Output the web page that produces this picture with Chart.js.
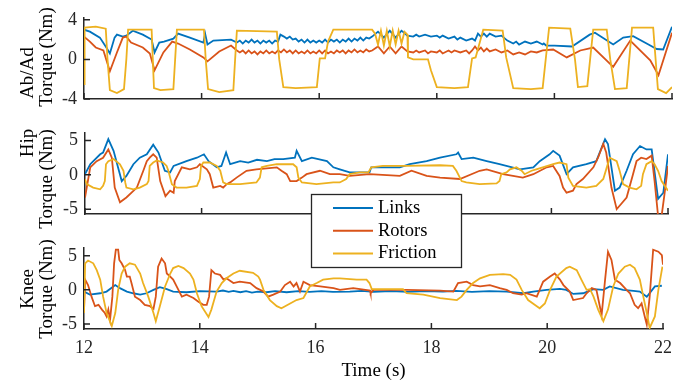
<!DOCTYPE html>
<html>
<head>
<meta charset="utf-8">
<script src="https://cdn.jsdelivr.net/npm/chart.js@4.4.1/dist/chart.umd.min.js"></script>
<style>
  body { margin: 0; background: #fff; }
  #wrap { position: relative; width: 694px; height: 383px; }
  #wrap canvas { position: absolute; left: 0; top: 0; }
</style>
</head>
<body>
<div id="wrap">
  <canvas id="abad" width="694" height="383"></canvas>
  <canvas id="hip" width="694" height="383"></canvas>
  <canvas id="knee" width="694" height="383"></canvas>
</div>
<script>
// series names / colours (MATLAB default order)
const seriesNames = ["Links", "Rotors", "Friction"];
const seriesColors = ["#0072BD", "#D95319", "#EDB120"];

const xTicks = [12, 14, 16, 18, 20, 22];
const abadTicks = [-4, 0, 4];
const hipTicks = [-5, 0, 5];
const kneeTicks = [-5, 0, 5];

// [time (s), torque (Nm)]
const abadLinks = [[12.0,3.0],[12.1,2.8],[12.27,2.2],[12.38,1.2],[12.44,0.6],[12.52,2.2],[12.56,2.5],[12.66,2.3],[12.72,2.4],[12.83,2.9],[13.0,2.5],[13.15,2.0],[13.2,0.7],[13.28,1.7],[13.36,1.8],[13.52,2.1],[13.6,2.6],[13.8,2.2],[14.03,1.7],[14.06,2.6],[14.1,1.5],[14.2,1.9],[14.5,2.0],[14.6,1.7],[14.65,1.9],[14.7,1.6],[14.75,1.9],[14.8,1.7],[14.85,2.0],[14.9,1.7],[14.95,1.9],[15.0,1.6],[15.05,1.9],[15.1,1.7],[15.15,1.9],[15.2,1.6],[15.25,1.9],[15.3,1.8],[15.34,2.5],[15.4,2.3],[15.45,2.1],[15.5,2.3],[15.55,2.0],[15.6,2.1],[15.65,1.8],[15.7,2.0],[15.75,1.7],[15.8,2.0],[15.85,1.7],[15.9,1.9],[15.95,1.7],[16.0,1.9],[16.05,1.7],[16.1,2.0],[16.15,1.7],[16.2,2.0],[16.25,1.8],[16.3,2.0],[16.35,1.7],[16.4,2.0],[16.45,1.8],[16.5,2.1],[16.55,1.8],[16.6,2.1],[16.65,1.9],[16.7,2.2],[16.75,1.9],[16.8,2.2],[16.85,2.1],[16.9,2.3],[17.0,2.8],[17.1,2.2],[17.2,2.9],[17.3,2.2],[17.4,2.9],[17.5,2.4],[17.6,2.3],[17.65,2.5],[17.7,2.3],[17.8,2.5],[17.9,2.3],[18.0,2.4],[18.05,2.2],[18.1,2.4],[18.2,2.1],[18.3,2.3],[18.35,2.0],[18.4,2.2],[18.5,1.9],[18.6,2.1],[18.65,1.9],[18.7,2.6],[18.75,2.3],[18.8,2.6],[18.85,2.3],[18.9,2.6],[19.0,2.3],[19.1,2.4],[19.2,1.9],[19.3,1.6],[19.35,1.8],[19.4,1.5],[19.5,1.8],[19.6,1.6],[19.7,1.8],[19.8,1.5],[19.82,1.6],[19.86,1.4],[20.0,1.4],[20.3,1.3],[20.6,2.5],[20.69,2.7],[21.0,1.5],[21.17,2.2],[21.34,2.35],[21.6,1.5],[21.74,1.05],[21.85,1.0],[22.0,3.3]];
const abadRotors = [[12.0,2.3],[12.1,1.8],[12.2,1.2],[12.33,0.9],[12.44,-1.2],[12.56,0.7],[12.66,2.2],[12.72,2.3],[12.8,1.7],[13.0,1.2],[13.12,0.6],[13.2,-1.1],[13.35,0.7],[13.5,1.8],[13.6,1.6],[13.8,1.0],[14.03,0.2],[14.1,-0.2],[14.3,0.8],[14.5,1.4],[14.6,0.9],[14.65,0.7],[14.7,0.9],[14.75,0.6],[14.8,0.9],[14.85,0.6],[14.9,0.8],[14.95,0.5],[15.0,0.8],[15.05,0.6],[15.1,0.9],[15.15,0.6],[15.2,0.8],[15.25,0.6],[15.3,0.9],[15.35,0.7],[15.4,1.0],[15.45,0.7],[15.5,0.9],[15.55,0.6],[15.6,0.9],[15.65,0.6],[15.7,0.8],[15.75,0.6],[15.8,0.9],[15.85,0.6],[15.9,0.8],[15.95,0.6],[16.0,0.9],[16.05,0.6],[16.1,0.9],[16.15,0.6],[16.2,0.8],[16.25,0.6],[16.3,0.9],[16.35,0.7],[16.4,0.9],[16.45,0.6],[16.5,0.9],[16.55,0.7],[16.6,1.0],[16.65,0.7],[16.7,0.9],[16.75,0.7],[16.8,1.0],[16.85,0.8],[16.9,0.9],[17.0,1.3],[17.1,0.6],[17.2,1.3],[17.3,0.6],[17.4,1.3],[17.5,0.8],[17.6,0.7],[17.65,0.9],[17.7,0.7],[17.8,0.9],[17.85,0.6],[17.9,0.8],[18.0,0.7],[18.05,0.9],[18.1,0.6],[18.2,0.9],[18.25,0.7],[18.3,0.9],[18.4,0.7],[18.5,0.9],[18.55,0.6],[18.6,0.9],[18.65,1.3],[18.7,0.9],[18.75,1.2],[18.8,0.8],[18.85,1.1],[18.9,0.8],[19.0,1.0],[19.1,0.7],[19.2,0.9],[19.3,0.5],[19.4,0.7],[19.5,0.5],[19.6,0.8],[19.7,0.7],[19.8,0.9],[19.98,1.0],[20.21,0.2],[20.44,0.9],[20.66,1.2],[21.0,-0.75],[21.29,1.9],[21.63,-0.1],[21.77,-1.6],[22.0,2.7]];
const abadFriction = [[12.0,-2.5],[12.01,3.2],[12.2,3.3],[12.37,3.1],[12.4,0],[12.44,-3.1],[12.56,-3.4],[12.68,-3.0],[12.72,0],[12.75,3.0],[13.15,3.0],[13.17,0],[13.19,-2.9],[13.3,-3.1],[13.52,-3.0],[13.55,0],[13.58,3.0],[14.04,3.0],[14.07,0],[14.11,-3.0],[14.3,-3.3],[14.54,-3.1],[14.57,0],[14.6,2.9],[15.28,2.8],[15.32,0],[15.39,-2.8],[15.6,-2.9],[15.96,-2.8],[16.01,0.1],[16.1,0.1],[16.15,1.8],[16.24,3.0],[16.9,3.0],[16.95,2.6],[17.0,1.5],[17.05,2.9],[17.1,1.4],[17.15,2.9],[17.2,1.3],[17.25,2.9],[17.3,1.5],[17.35,2.9],[17.4,1.6],[17.45,2.8],[17.5,2.5],[17.51,0.2],[17.6,0.0],[17.85,0.0],[17.9,-1.1],[18.0,-2.8],[18.3,-2.9],[18.53,-2.8],[18.6,0.1],[18.66,0.2],[18.79,3.0],[19.12,2.9],[19.18,0.2],[19.3,-2.9],[19.6,-3.0],[19.8,-2.9],[19.91,3.2],[20.27,3.1],[20.35,0],[20.4,-2.8],[20.56,-2.7],[20.66,3.0],[20.89,3.0],[20.95,0],[21.03,-3.0],[21.23,-2.9],[21.32,3.2],[21.68,3.2],[21.76,-3.0],[21.9,-3.4],[22.0,-2.8]];

const hipLinks = [[12.0,0.1],[12.09,1.55],[12.26,3.0],[12.31,3.25],[12.4,5.2],[12.49,3.5],[12.63,-0.9],[12.71,-0.15],[12.83,1.55],[12.94,2.5],[13.06,3.0],[13.17,4.4],[13.26,3.25],[13.37,0.6],[13.46,0.35],[13.52,1.3],[13.74,2.0],[13.92,2.5],[14.04,3.0],[14.12,2.0],[14.26,1.1],[14.34,1.3],[14.42,3.25],[14.49,1.55],[14.66,2.0],[14.8,1.8],[14.95,2.2],[15.12,2.0],[15.25,2.3],[15.4,2.3],[15.6,2.5],[15.63,3.5],[15.72,2.0],[15.89,2.5],[16.15,2.0],[16.26,1.1],[16.37,0.8],[16.54,0.35],[16.88,0.35],[16.91,1.1],[17.4,1.1],[17.57,1.55],[17.86,2.0],[18.09,2.5],[18.37,3.0],[18.4,3.25],[18.46,2.3],[18.66,2.5],[18.89,2.0],[19.11,1.55],[19.46,0.8],[19.69,1.1],[19.8,2.0],[19.97,3.0],[20.03,3.5],[20.14,2.8],[20.26,0.1],[20.37,1.1],[20.6,1.55],[20.77,2.0],[20.92,5.2],[20.97,4.5],[21.09,-2.3],[21.17,-1.85],[21.29,0.6],[21.4,3.0],[21.52,4.2],[21.63,3.7],[21.72,3.7],[21.83,-3.5],[21.92,-2.6],[22.0,3.0]];
const hipRotors = [[12.0,-3.3],[12.09,1.1],[12.2,2.0],[12.31,2.5],[12.4,3.7],[12.46,2.5],[12.51,-1.85],[12.6,-4.0],[12.71,-3.3],[12.89,-1.85],[13.0,0.6],[13.06,2.0],[13.11,2.5],[13.17,3.0],[13.23,2.5],[13.29,-0.9],[13.38,-3.1],[13.46,-2.3],[13.52,-2.6],[13.54,-0.9],[13.66,1.1],[13.8,0.8],[13.92,1.1],[13.97,1.55],[14.09,0.8],[14.14,0.1],[14.2,-1.85],[14.32,-1.6],[14.37,-1.85],[14.43,-1.35],[14.49,-1.1],[14.6,-0.4],[14.77,0.6],[14.94,0.8],[15.29,1.1],[15.37,0.6],[15.46,0.1],[15.52,-0.9],[15.63,-0.9],[15.72,-0.4],[15.8,0.1],[16.03,0.6],[16.2,0.1],[16.37,0.1],[16.54,-0.15],[16.88,0.1],[17.4,-0.15],[17.6,0.6],[17.86,-0.15],[18.09,-0.4],[18.43,-0.6],[18.77,0.6],[18.89,0.8],[19.17,0.1],[19.51,-0.4],[19.69,0.1],[19.92,1.1],[20.03,1.3],[20.14,-0.15],[20.2,-1.85],[20.26,-2.6],[20.37,-2.3],[20.43,-1.35],[20.54,-0.6],[20.72,1.1],[20.8,2.5],[20.89,4.5],[20.94,3.25],[21.03,-1.85],[21.12,-5.0],[21.17,-4.5],[21.29,-3.3],[21.4,0.1],[21.46,2.0],[21.54,2.5],[21.63,2.3],[21.72,2.8],[21.77,-0.9],[21.83,-6.0],[21.89,-6.0],[21.94,-2.8],[22.0,1.3]];
const hipFriction = [[12.0,-0.6],[12.03,-1.35],[12.14,-1.85],[12.26,-2.1],[12.31,-1.6],[12.34,-0.9],[12.36,1.55],[12.4,2.0],[12.49,2.3],[12.6,1.55],[12.66,0.6],[12.69,-1.1],[12.71,-1.85],[12.83,-2.1],[12.94,-1.85],[13.06,-1.35],[13.09,-0.9],[13.11,1.3],[13.17,1.8],[13.23,2.1],[13.34,1.8],[13.4,1.3],[13.43,0.6],[13.49,-1.35],[13.57,-1.85],[13.74,-1.85],[13.92,-1.6],[13.97,-0.6],[13.99,1.3],[14.03,1.8],[14.14,1.8],[14.26,1.3],[14.32,0.6],[14.37,-1.1],[14.43,-1.35],[14.66,-1.35],[14.94,-1.1],[15.0,-0.4],[15.03,1.1],[15.12,1.3],[15.29,1.55],[15.57,1.55],[15.63,1.1],[15.66,-0.4],[15.72,-1.1],[15.97,-1.35],[16.26,-1.1],[16.37,-1.1],[16.48,-0.6],[16.54,0.1],[16.71,0.35],[16.86,0.35],[16.91,1.1],[17.11,1.3],[17.51,1.3],[18.09,1.4],[18.31,1.3],[18.37,0.6],[18.46,-0.9],[18.54,-1.1],[18.77,-1.35],[19.06,-1.25],[19.11,-0.9],[19.14,0.1],[19.23,0.35],[19.29,0.8],[19.4,1.1],[19.49,0.6],[19.54,0.1],[19.66,0.6],[19.74,0.8],[20.03,1.55],[20.14,1.8],[20.26,1.55],[20.29,-0.4],[20.37,-1.6],[20.6,-1.85],[20.77,-1.6],[20.89,-0.6],[20.94,0.8],[21.0,2.5],[21.12,2.0],[21.17,0.6],[21.23,-1.35],[21.34,-1.85],[21.46,-2.1],[21.54,-1.6],[21.57,0.1],[21.63,1.55],[21.72,2.0],[21.77,1.55],[21.83,0.6],[21.89,-0.9],[22.0,-2.3]];

const kneeLinks = [[12.0,-0.25],[12.1,-0.7],[12.28,-0.5],[12.39,-0.25],[12.54,0.7],[12.62,0.25],[12.74,-0.25],[12.85,-0.5],[12.97,-0.7],[13.08,-0.5],[13.2,0.0],[13.31,0.4],[13.43,0.1],[13.54,-0.25],[13.77,-0.35],[14.0,-0.2],[14.29,-0.25],[14.4,-0.1],[14.5,-0.3],[14.58,-0.15],[14.7,-0.35],[14.8,-0.2],[14.9,-0.4],[15.0,-0.25],[15.15,-0.35],[15.3,-0.2],[15.5,-0.35],[15.7,-0.2],[15.9,-0.3],[16.1,-0.2],[16.3,-0.3],[16.59,-0.25],[16.8,-0.15],[17.0,-0.3],[17.3,-0.2],[17.6,-0.3],[17.9,-0.2],[18.2,-0.25],[18.43,-0.15],[18.7,-0.3],[19.0,-0.2],[19.3,-0.25],[19.59,-0.5],[19.76,-0.25],[19.99,0.0],[20.22,0.15],[20.33,0.0],[20.45,-0.6],[20.62,-0.5],[20.8,0.1],[20.97,0.0],[21.08,0.5],[21.31,0.0],[21.49,-0.15],[21.6,-0.25],[21.72,-1.0],[21.75,-0.7],[21.86,0.5],[21.98,0.6]];
const kneeRotors = [[12.0,-3.0],[12.02,1.5],[12.07,0.7],[12.13,-1.0],[12.19,-2.4],[12.25,-2.2],[12.31,-2.9],[12.36,-3.4],[12.39,-3.9],[12.42,-2.9],[12.45,-4.4],[12.49,-1.0],[12.52,3.9],[12.55,5.9],[12.59,5.9],[12.61,4.4],[12.65,3.9],[12.71,2.9],[12.74,1.95],[12.79,1.95],[12.82,1.0],[12.88,-1.0],[12.97,-1.5],[13.05,-2.2],[13.14,-2.4],[13.2,-2.8],[13.24,-1.0],[13.28,3.4],[13.34,4.6],[13.4,3.9],[13.43,2.4],[13.49,1.95],[13.54,1.5],[13.6,0.5],[13.69,-1.0],[13.77,-0.7],[13.89,-1.2],[13.97,-1.7],[14.06,-2.2],[14.12,-2.2],[14.16,-1.0],[14.2,2.9],[14.26,2.4],[14.35,2.2],[14.41,1.5],[14.46,1.7],[14.58,1.0],[14.69,1.2],[14.87,1.0],[14.98,0.25],[15.1,-0.25],[15.18,-1.0],[15.27,-0.7],[15.39,-0.25],[15.47,0.7],[15.56,1.2],[15.62,0.5],[15.67,1.0],[15.73,-0.25],[15.79,1.2],[15.9,0.7],[16.08,0.5],[16.31,0.25],[16.42,0.0],[16.65,0.25],[16.94,-0.1],[16.95,-0.5],[17.0,0.0],[17.57,0.0],[18.15,-0.1],[18.38,-0.25],[18.46,1.0],[18.61,1.2],[18.72,0.7],[18.84,0.5],[19.01,0.7],[19.18,0.25],[19.3,0.0],[19.41,-0.5],[19.56,-0.7],[19.64,-0.5],[19.82,-1.0],[19.87,0.0],[19.93,1.2],[20.05,1.95],[20.13,2.4],[20.22,1.5],[20.28,0.7],[20.39,-0.25],[20.45,-1.5],[20.62,-1.2],[20.68,-0.5],[20.77,0.25],[20.85,0.0],[20.94,-3.7],[21.0,1.5],[21.05,5.6],[21.11,4.4],[21.17,1.5],[21.26,1.0],[21.37,0.0],[21.43,-0.5],[21.51,-2.2],[21.57,-2.7],[21.63,-2.0],[21.69,-4.1],[21.72,-5.1],[21.77,-1.0],[21.83,5.9],[21.92,5.6],[21.98,5.1],[22.0,3.7]];
const kneeFriction = [[12.0,-3.4],[12.02,3.9],[12.07,4.3],[12.16,3.9],[12.22,2.9],[12.28,1.5],[12.33,-1.0],[12.39,-3.4],[12.48,-5.3],[12.54,-3.4],[12.59,0.0],[12.65,2.4],[12.71,3.4],[12.79,3.9],[12.88,3.7],[12.97,2.4],[13.02,1.0],[13.11,-1.0],[13.2,-3.4],[13.24,-4.6],[13.31,-2.4],[13.4,0.5],[13.49,2.4],[13.54,3.2],[13.63,3.5],[13.72,3.2],[13.83,2.4],[13.89,1.5],[13.95,-0.5],[14.03,-2.4],[14.15,-4.0],[14.2,-2.9],[14.29,-0.25],[14.38,1.0],[14.46,1.7],[14.58,2.4],[14.69,2.8],[14.92,2.5],[15.01,1.95],[15.04,1.5],[15.1,0.0],[15.21,-1.5],[15.33,-2.4],[15.41,-2.7],[15.56,-2.0],[15.67,-1.5],[15.79,-1.2],[15.9,0.5],[16.02,1.0],[16.13,1.5],[16.31,1.7],[16.42,1.7],[16.71,1.5],[16.88,1.5],[16.93,1.0],[16.97,0.1],[17.51,0.1],[17.57,-0.5],[17.86,-0.7],[18.15,-1.2],[18.44,-1.5],[18.52,-1.0],[18.61,0.0],[18.72,1.0],[18.84,1.7],[19.01,2.2],[19.24,2.3],[19.36,2.2],[19.47,1.5],[19.56,0.0],[19.67,-1.5],[19.82,-2.4],[19.87,-2.7],[19.96,-2.0],[20.05,0.0],[20.16,1.95],[20.33,3.2],[20.39,3.4],[20.51,2.9],[20.59,1.5],[20.68,0.0],[20.74,0.1],[20.8,-1.0],[20.88,-2.9],[20.97,-4.6],[21.05,-2.9],[21.14,0.5],[21.23,2.4],[21.34,3.4],[21.43,3.7],[21.51,3.2],[21.6,1.5],[21.66,-1.0],[21.72,-3.4],[21.77,-5.6],[21.86,-3.9],[21.92,0.0],[21.99,3.4]];

const FONT = "'Liberation Serif', 'Times New Roman', serif";
const axisColor = "#262626";

// MATLAB-style ticks pointing into the plot
const inwardTicks = {
  id: "inwardTicks",
  afterDraw(chart) {
    const { ctx, chartArea: a, scales: { x, y } } = chart;
    ctx.save();
    ctx.strokeStyle = axisColor;
    ctx.lineWidth = 1.5;
    ctx.beginPath();
    x.ticks.forEach((t) => {
      const px = x.getPixelForValue(t.value);
      ctx.moveTo(px, a.bottom);
      ctx.lineTo(px, a.bottom - 6);
    });
    y.ticks.forEach((t) => {
      const py = y.getPixelForValue(t.value);
      ctx.moveTo(a.left, py);
      ctx.lineTo(a.left + 6, py);
    });
    ctx.stroke();
    ctx.restore();
  },
};

// two-line rotated y label (lines are not centred on each other in the figure)
const yLabels = {
  id: "yLabels",
  afterDraw(chart, args, opts) {
    const ctx = chart.ctx;
    ctx.save();
    ctx.fillStyle = "#000";
    ctx.font = "19px " + FONT;
    ctx.textAlign = "center";
    ctx.textBaseline = "alphabetic";
    opts.lines.forEach((l) => {
      ctx.save();
      ctx.translate(l.x, l.y);
      ctx.rotate(-Math.PI / 2);
      ctx.fillText(l.text, 0, 0);
      ctx.restore();
    });
    ctx.restore();
  },
};

const boxLegend = {
  id: "boxLegend",
  afterDraw(chart) {
    const ctx = chart.ctx;
    ctx.save();
    ctx.fillStyle = "#fff";
    ctx.fillRect(311.5, 194.5, 150, 73);
    ctx.strokeStyle = axisColor;
    ctx.lineWidth = 1.3;
    ctx.strokeRect(311.5, 194.5, 150, 73);
    ctx.font = "18.5px " + FONT;
    ctx.textBaseline = "middle";
    ctx.textAlign = "left";
    chart.data.datasets.forEach((ds, i) => {
      const yy = 208 + i * 22.8;
      ctx.strokeStyle = ds.borderColor;
      ctx.lineWidth = 2;
      ctx.beginPath();
      ctx.moveTo(333, yy);
      ctx.lineTo(373, yy);
      ctx.stroke();
      ctx.fillStyle = "#000";
      ctx.fillText(ds.label, 378, yy);
    });
    ctx.restore();
  },
};

function drawPanel(id, p) {
  const extra = p.showX ? [inwardTicks, yLabels, boxLegend] : [inwardTicks, yLabels];
  return new Chart(document.getElementById(id), {
    type: "line",
    data: {
      datasets: p.series.map((s, i) => ({
        label: seriesNames[i],
        data: s.map(([x, y]) => ({ x, y })),
        borderColor: seriesColors[i],
        borderWidth: 1.8,
        pointRadius: 0,
        tension: 0,
        order: 3 - i,
      })),
    },
    options: {
      responsive: false,
      animation: false,
      events: [],
      layout: { padding: { left: 0, right: p.right, top: p.top, bottom: 0 } },
      plugins: {
        legend: { display: false },
        tooltip: { enabled: false },
        yLabels: { lines: p.labels },
      },
      scales: {
        x: {
          type: "linear",
          min: 12,
          max: 22,
          afterBuildTicks: (s) => { s.ticks = xTicks.map((v) => ({ value: v })); },
          afterFit: (s) => { s.height = p.xHeight; },
          grid: { display: false, drawTicks: false },
          border: { display: true, color: axisColor, width: 1.5 },
          ticks: {
            display: p.showX, autoSkip: false, maxRotation: 0, padding: 8,
            color: axisColor, font: { family: FONT, size: 18 },
          },
          title: {
            display: p.showX, text: "Time (s)", color: "#000",
            font: { family: FONT, size: 19 }, padding: { top: 0, bottom: 1 },
          },
        },
        y: {
          min: p.yMin,
          max: p.yMax,
          afterBuildTicks: (s) => { s.ticks = p.yTicks.map((v) => ({ value: v })); },
          afterFit: (s) => { s.width = p.yWidth; },
          grid: { display: false, drawTicks: false },
          border: { display: true, color: axisColor, width: 1.5 },
          ticks: { padding: 7, color: axisColor, font: { family: FONT, size: 18 } },
        },
      },
    },
    plugins: extra,
  });
}

drawPanel("abad", {
  series: [abadLinks, abadRotors, abadFriction],
  yMin: -4, yMax: 4.2, yTicks: abadTicks,
  top: 15.4, right: 22, yWidth: 84, xHeight: 383 - 99, showX: false,
  labels: [{ text: "Ab/Ad", x: 33, y: 73 }, { text: "Torque (Nm)", x: 52, y: 57 }],
});
drawPanel("hip", {
  series: [hipLinks, hipRotors, hipFriction],
  yMin: -5.7, yMax: 6.1, yTicks: hipTicks,
  top: 133, right: 26, yWidth: 85, xHeight: 383 - 214, showX: false,
  labels: [{ text: "Hip", x: 33, y: 143 }, { text: "Torque (Nm)", x: 52, y: 179 }],
});
drawPanel("knee", {
  series: [kneeLinks, kneeRotors, kneeFriction],
  yMin: -5.75, yMax: 6.25, yTicks: kneeTicks,
  top: 247.3, right: 31, yWidth: 84, xHeight: 383 - 329, showX: true,
  labels: [{ text: "Knee", x: 33, y: 289 }, { text: "Torque (Nm)", x: 52, y: 289 }],
});
</script>
</body>
</html>
